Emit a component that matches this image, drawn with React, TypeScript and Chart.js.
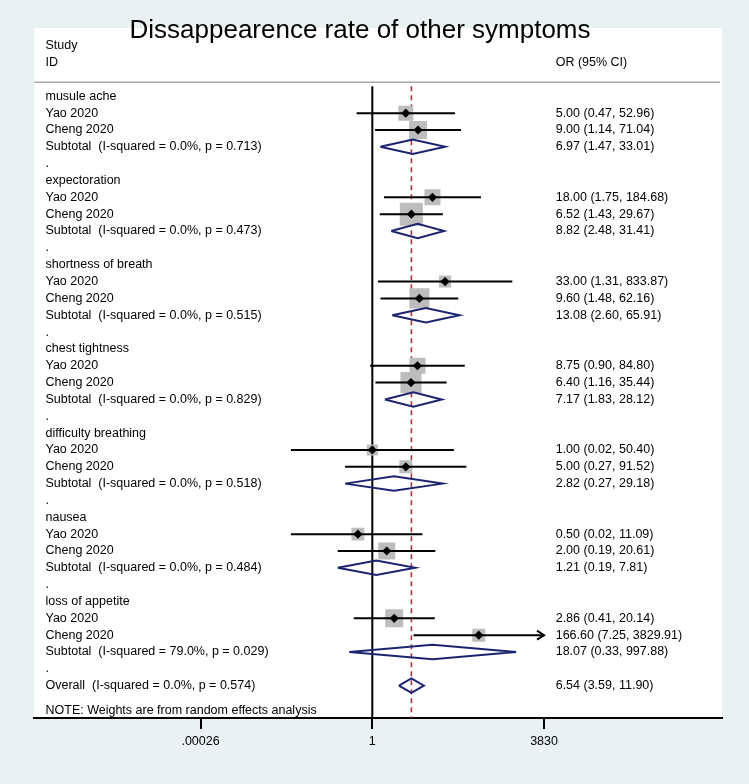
import React, { useEffect, useRef } from "react";
import { Chart, registerables } from "chart.js";

Chart.register(...registerables);

// ---------------- data ----------------
const chartTitle = "Dissappearence rate of other symptoms";
const headerLeft = ["Study", "ID"];
const headerRight = "OR (95% CI)";
const groups = [
  "musule ache",
  "expectoration",
  "shortness of breath",
  "chest tightness",
  "difficulty breathing",
  "nausea",
  "loss of appetite",
];
const studyNames = ["Yao 2020", "Cheng 2020"];

const yaoOR = [5.0, 18.0, 33.0, 8.75, 1.0, 0.5, 2.86];
const yaoLo = [0.47, 1.75, 1.31, 0.9, 0.02, 0.02, 0.41];
const yaoHi = [52.96, 184.68, 833.87, 84.8, 50.4, 11.09, 20.14];
const yaoWeight = [5.9, 6.7, 3.8, 6.7, 3.2, 4.4, 8.5];

const chengOR = [9.0, 6.52, 9.6, 6.4, 5.0, 2.0, 166.6];
const chengLo = [1.14, 1.43, 1.48, 1.16, 0.27, 0.19, 7.25];
const chengHi = [71.04, 29.67, 62.16, 35.44, 91.52, 20.61, 3829.91];
const chengWeight = [8.5, 13.9, 10.5, 11.6, 4.4, 7.6, 4.4];

const subOR = [6.97, 8.82, 13.08, 7.17, 2.82, 1.21, 18.07];
const subLo = [1.47, 2.48, 2.6, 1.83, 0.27, 0.19, 0.33];
const subHi = [33.01, 31.41, 65.91, 28.12, 29.18, 7.81, 997.88];
const subI2 = ["0.0%", "0.0%", "0.0%", "0.0%", "0.0%", "0.0%", "79.0%"];
const subP = ["0.713", "0.473", "0.515", "0.829", "0.518", "0.484", "0.029"];

const overallOR = 6.54;
const overallLo = 3.59;
const overallHi = 11.9;
const overallI2 = "0.0%";
const overallP = "0.574";

const noteText = "NOTE: Weights are from random effects analysis";
const xTicks = [0.00026, 1, 3830];
const xTickLabels = [".00026", "1", "3830"];
const ciClip = 3830;

// ---------------- layout / style ----------------
const W = 749;
const H = 784;
const BG = "#e9f1f3";
const FONT = '"Liberation Sans", Arial, Helvetica, sans-serif';
const X_MIN = Math.pow(10, -7.054);
const X_MAX = Math.pow(10, 7.297);
const Y_MIN = -4.056;
const Y_MAX = 36.918;
const AREA_LEFT = 34.3;
const AREA_RIGHT = 722;
const AREA_TOP = 28;
const AREA_BOTTOM = 718;
const LINE_TOP = -0.6;
const DIAMOND_HALF = 0.43;
const BOX_SCALE = 38.16;
const NAVY = "#1c2470";
const RED = "#b0303a";
const GREY_BOX = "#bdbdbd";
const TEXT_X = 45.5;
const RIGHT_X = 555.7;

// rows
const ROWS_PER_GROUP = 5;
const OVERALL_ROW = groups.length * ROWS_PER_GROUP;
const NOTE_ROW = OVERALL_ROW + 1.5;

type Study = { or: number; lo: number; hi: number; w: number; row: number; name: string };

const studies: Study[] = [];
groups.forEach((g, i) => {
  const base = i * ROWS_PER_GROUP;
  studies.push({ or: yaoOR[i], lo: yaoLo[i], hi: yaoHi[i], w: yaoWeight[i], row: base + 1, name: studyNames[0] });
  studies.push({ or: chengOR[i], lo: chengLo[i], hi: chengHi[i], w: chengWeight[i], row: base + 2, name: studyNames[1] });
});

const fmt = (o: number, l: number, h: number) => `${o.toFixed(2)} (${l.toFixed(2)}, ${h.toFixed(2)})`;

type TextRow = { row: number; left: string; right?: string };
const textRows: TextRow[] = [];
groups.forEach((g, i) => {
  const base = i * ROWS_PER_GROUP;
  textRows.push({ row: base, left: g });
  textRows.push({ row: base + 1, left: studyNames[0], right: fmt(yaoOR[i], yaoLo[i], yaoHi[i]) });
  textRows.push({ row: base + 2, left: studyNames[1], right: fmt(chengOR[i], chengLo[i], chengHi[i]) });
  textRows.push({
    row: base + 3,
    left: `Subtotal  (I-squared = ${subI2[i]}, p = ${subP[i]})`,
    right: fmt(subOR[i], subLo[i], subHi[i]),
  });
  textRows.push({ row: base + 4, left: "." });
});
textRows.push({
  row: OVERALL_ROW,
  left: `Overall  (I-squared = ${overallI2}, p = ${overallP})`,
  right: fmt(overallOR, overallLo, overallHi),
});
textRows.push({ row: NOTE_ROW, left: noteText });

// ---------------- datasets ----------------
function buildDatasets(): any[] {
  const ds: any[] = [];
  // black diamond markers (top)
  ds.push({
    data: studies.map((s) => ({ x: s.or, y: s.row })),
    pointStyle: "rectRot",
    pointRadius: 4.6,
    backgroundColor: "#000",
    borderColor: "#000",
    borderWidth: 0,
    order: 0,
  });
  // CI lines
  studies.forEach((s) => {
    ds.push({
      data: [
        { x: s.lo, y: s.row },
        { x: Math.min(s.hi, ciClip), y: s.row },
      ],
      showLine: true,
      borderColor: "#000",
      borderWidth: 2,
      pointRadius: 0,
      order: 1,
    });
  });
  // subtotal + overall diamonds
  const diamonds = groups.map((g, i) => ({ or: subOR[i], lo: subLo[i], hi: subHi[i], row: i * ROWS_PER_GROUP + 3 }));
  diamonds.push({ or: overallOR, lo: overallLo, hi: overallHi, row: OVERALL_ROW });
  diamonds.forEach((d) => {
    ds.push({
      data: [
        { x: d.lo, y: d.row },
        { x: d.or, y: d.row - DIAMOND_HALF },
        { x: d.hi, y: d.row },
        { x: d.or, y: d.row + DIAMOND_HALF },
        { x: d.lo, y: d.row },
      ],
      showLine: true,
      borderColor: NAVY,
      borderWidth: 2,
      borderJoinStyle: "miter",
      pointRadius: 0,
      order: 2,
    });
  });
  // weight boxes
  ds.push({
    data: studies.map((s) => ({ x: s.or, y: s.row })),
    pointStyle: "rect",
    pointRadius: studies.map((s) => Math.sqrt(s.w * BOX_SCALE) / Math.SQRT2),
    backgroundColor: GREY_BOX,
    borderWidth: 0,
    order: 3,
  });
  // overall dashed line
  ds.push({
    data: [
      { x: overallOR, y: LINE_TOP },
      { x: overallOR, y: Y_MAX },
    ],
    showLine: true,
    borderColor: RED,
    borderWidth: 1.6,
    borderDash: [5, 4],
    pointRadius: 0,
    order: 4,
  });
  // null line
  ds.push({
    data: [
      { x: 1, y: LINE_TOP },
      { x: 1, y: Y_MAX },
    ],
    showLine: true,
    borderColor: "#000",
    borderWidth: 2,
    pointRadius: 0,
    order: 5,
  });
  return ds;
}

const forestPlugin = {
  id: "forestPlugin",
  beforeDraw(chart: any) {
    const { ctx, chartArea: a } = chart;
    ctx.save();
    ctx.fillStyle = BG;
    ctx.fillRect(0, 0, chart.width, chart.height);
    ctx.fillStyle = "#ffffff";
    ctx.fillRect(a.left, a.top, a.right - a.left, a.bottom - a.top);
    ctx.restore();
  },
  afterDatasetsDraw(chart: any) {
    const { ctx } = chart;
    const xs = chart.scales.x;
    const ys = chart.scales.y;
    ctx.save();
    ctx.strokeStyle = "#000";
    ctx.lineWidth = 2;
    studies.forEach((s) => {
      if (s.hi >= ciClip * 0.999) {
        const px = xs.getPixelForValue(ciClip);
        const py = ys.getPixelForValue(s.row);
        ctx.beginPath();
        ctx.moveTo(px - 7, py - 4.5);
        ctx.lineTo(px, py);
        ctx.lineTo(px - 7, py + 4.5);
        ctx.stroke();
      }
    });
    ctx.restore();
  },
  afterDraw(chart: any) {
    const { ctx, chartArea: a } = chart;
    const ys = chart.scales.y;
    ctx.save();
    // title
    ctx.fillStyle = "#000";
    ctx.font = `26px ${FONT}`;
    ctx.textAlign = "center";
    ctx.textBaseline = "alphabetic";
    ctx.fillText(chartTitle, 360, 38);
    // header
    ctx.font = `12.5px ${FONT}`;
    ctx.textAlign = "left";
    ctx.textBaseline = "middle";
    ctx.fillText(headerLeft[0], TEXT_X, ys.getPixelForValue(-3));
    ctx.fillText(headerLeft[1], TEXT_X, ys.getPixelForValue(-2));
    ctx.fillText(headerRight, RIGHT_X, ys.getPixelForValue(-2));
    // separator
    ctx.strokeStyle = "#a9a9a9";
    ctx.lineWidth = 1.5;
    const sy = ys.getPixelForValue(-0.83);
    ctx.beginPath();
    ctx.moveTo(a.left, sy);
    ctx.lineTo(a.right - 2, sy);
    ctx.stroke();
    // rows
    textRows.forEach((r) => {
      const py = ys.getPixelForValue(r.row);
      ctx.fillText(r.left, TEXT_X, py);
      if (r.right) ctx.fillText(r.right, RIGHT_X, py);
    });
    ctx.restore();
  },
};

export default function App() {
  const ref = useRef<HTMLCanvasElement>(null);
  useEffect(() => {
    if (!ref.current) return;
    const chart = new Chart(ref.current, {
      type: "scatter",
      data: { datasets: buildDatasets() },
      options: {
        animation: false,
        responsive: false,
        devicePixelRatio: 1,
        events: [],
        layout: {
          padding: { left: AREA_LEFT, right: W - AREA_RIGHT, top: AREA_TOP, bottom: 0 },
        },
        plugins: {
          legend: { display: false },
          tooltip: { enabled: false },
          title: { display: false },
        },
        elements: { line: { tension: 0 } },
        scales: {
          x: {
            type: "logarithmic",
            min: X_MIN,
            max: X_MAX,
            bounds: "data",
            afterBuildTicks: (s: any) => {
              s.ticks = xTicks.map((v) => ({ value: v }));
            },
            afterFit: (s: any) => {
              s.height = H - AREA_BOTTOM;
            },
            ticks: {
              autoSkip: false,
              maxRotation: 0,
              minRotation: 0,
              padding: 5,
              color: "#000",
              font: { family: FONT, size: 12.5 },
              callback: (_v: any, i: number) => xTickLabels[i],
            },
            grid: {
              display: true,
              drawOnChartArea: false,
              drawTicks: true,
              tickLength: 11,
              color: "#000",
              lineWidth: 2,
            },
            border: { display: true, color: "#000", width: 2 },
          },
          y: {
            type: "linear",
            min: Y_MIN,
            max: Y_MAX,
            reverse: true,
            display: false,
          },
        },
      } as any,
      plugins: [forestPlugin],
    });
    return () => chart.destroy();
  }, []);
  return (
    <div style={{ position: "fixed", left: 0, top: 0, width: W, height: H, background: BG }}>
      <canvas ref={ref} width={W} height={H} style={{ display: "block", width: W, height: H }} />
    </div>
  );
}
